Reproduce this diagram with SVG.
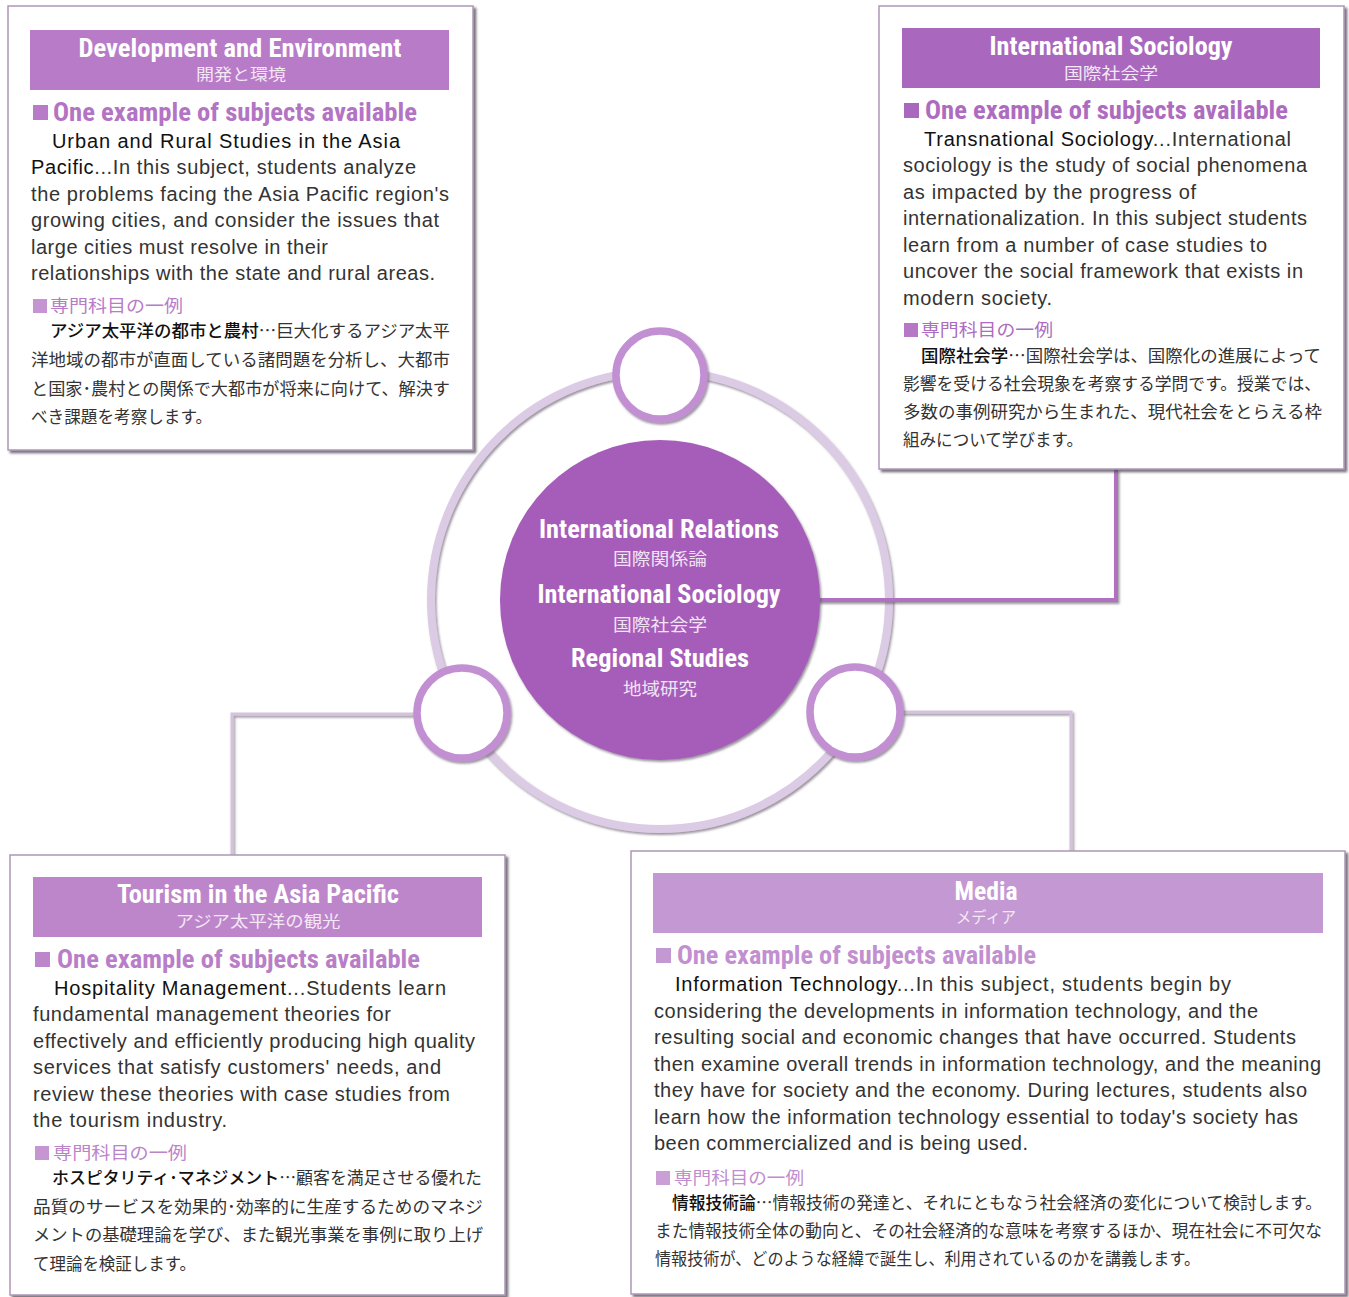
<svg xmlns="http://www.w3.org/2000/svg" width="1349" height="1297" viewBox="0 0 1349 1297">
  <defs>
    <filter id="shadow" x="-5%" y="-5%" width="112%" height="112%">
      <feDropShadow dx="2.5" dy="2.5" stdDeviation="1" flood-color="#4a4450" flood-opacity="0.75"/>
    </filter>
    <filter id="lineShadow" x="-10%" y="-10%" width="120%" height="130%">
      <feDropShadow dx="1.5" dy="2" stdDeviation="1" flood-color="#5a5060" flood-opacity="0.6"/>
    </filter>
    <style>
      .card { fill: #ffffff; stroke: #ad97b6; stroke-width: 1.5; filter: url(#shadow); }
      .title { font-family: "Liberation Sans Narrow", "Roboto Condensed", "DejaVu Sans Condensed", "Liberation Sans", sans-serif; font-weight: bold; font-size: 25px; fill: #ffffff; text-anchor: middle; }
      .sub { font-family: "Noto Sans CJK JP", sans-serif; font-size: 16px; fill: #f4e8f6; text-anchor: middle; }
      .ex { font-family: "Liberation Sans Narrow", "Roboto Condensed", "DejaVu Sans Condensed", "Liberation Sans", sans-serif; font-weight: bold; font-size: 26px; }
      .body { font-family: "Liberation Sans", Arial, sans-serif; font-size: 20px; fill: #333333; }
      .name { fill: #111111; }
      .jh { font-family: "Noto Sans CJK JP", sans-serif; font-size: 17px; }
      .jp { font-family: "Noto Sans CJK JP", sans-serif; font-size: 17px; fill: #333333; }
      .jname { font-weight: 500; fill: #111111; }
      .conn { fill: none; stroke-linejoin: miter; filter: url(#lineShadow); }
      .ring { fill: none; stroke: #dccbe4; stroke-width: 8; filter: url(#lineShadow); }
      .bub { fill: #ffffff; stroke: #c290d2; stroke-width: 7.5; filter: url(#lineShadow); }
      .hubtxt { font-family: "Liberation Sans Narrow", "Roboto Condensed", "DejaVu Sans Condensed", "Liberation Sans", sans-serif; font-weight: bold; font-size: 25px; fill: #ffffff; text-anchor: middle; }
      .hubjp { font-family: "Noto Sans CJK JP", sans-serif; font-size: 17px; fill: #f1e4f5; text-anchor: middle; }
    </style>
  </defs>

  <!-- outer ring of the hub -->
  <circle class="ring" cx="660" cy="600" r="229"/>

  <!-- connectors between hub and cards -->
  <g id="connectors">
    <path class="conn" d="M474 359 H616" stroke="#cfbcda" stroke-width="4"/>
    <path class="conn" d="M818 600 H1116 V469" stroke="#b071c2" stroke-width="4"/>
    <path class="conn" d="M416 714 H232 V855" stroke="#d3c3dc" stroke-width="3"/>
    <path class="conn" d="M902 712 H1071 V851" stroke="#d3c3dc" stroke-width="3"/>
  </g>

  <!-- central hub -->
  <g id="hub">
    <circle cx="660" cy="600" r="160" fill="#a65db9" filter="url(#lineShadow)"/>
    <text class="hubtxt" x="659" y="538" textLength="240" lengthAdjust="spacingAndGlyphs">International Relations</text>
    <text class="hubjp" x="660" y="565" textLength="94" lengthAdjust="spacingAndGlyphs">国際関係論</text>
    <text class="hubtxt" x="659" y="603" textLength="243" lengthAdjust="spacingAndGlyphs">International Sociology</text>
    <text class="hubjp" x="660" y="631" textLength="94" lengthAdjust="spacingAndGlyphs">国際社会学</text>
    <text class="hubtxt" x="660" y="667" textLength="178" lengthAdjust="spacingAndGlyphs">Regional Studies</text>
    <text class="hubjp" x="660" y="695" textLength="74" lengthAdjust="spacingAndGlyphs">地域研究</text>
  </g>

  <!-- small bubbles on the ring -->
  <g id="bubble-top"><circle class="bub" cx="660" cy="375" r="44"/></g>
  <g id="bubble-left"><circle class="bub" cx="462" cy="713" r="45"/></g>
  <g id="bubble-right"><circle class="bub" cx="855" cy="712" r="45"/></g>

  <!-- Development and Environment -->
  <g id="card-development">
    <rect class="card" x="8" y="6" width="465" height="444"/>
    <rect x="30" y="30" width="419" height="60" fill="#b87bc8"/>
    <text class="title" x="240" y="57" textLength="323" lengthAdjust="spacingAndGlyphs">Development and Environment</text>
    <text class="sub" x="241" y="80" textLength="90" lengthAdjust="spacingAndGlyphs">開発と環境</text>
    <rect x="33" y="105" width="15" height="15" fill="#b87bc8"/>
    <text class="ex" x="53" y="121" fill="#b374c4" textLength="364" lengthAdjust="spacingAndGlyphs">One example of subjects available</text>
    <text class="body" x="52" y="148" textLength="348" lengthAdjust="spacing"><tspan class="name">Urban and Rural Studies in the Asia</tspan></text>
    <text class="body" x="31" y="174" textLength="385" lengthAdjust="spacing"><tspan class="name">Pacific</tspan>...In this subject, students analyze</text>
    <text class="body" x="31" y="201" textLength="418" lengthAdjust="spacing">the problems facing the Asia Pacific region's</text>
    <text class="body" x="31" y="227" textLength="408" lengthAdjust="spacing">growing cities, and consider the issues that</text>
    <text class="body" x="31" y="254" textLength="297" lengthAdjust="spacing">large cities must resolve in their</text>
    <text class="body" x="31" y="280" textLength="404" lengthAdjust="spacing">relationships with the state and rural areas.</text>
    <rect x="33" y="299" width="14" height="14" fill="#c594d2"/>
    <text class="jh" x="50" y="312" fill="#b87bc8" textLength="133" lengthAdjust="spacingAndGlyphs">専門科目の一例</text>
    <text class="jp" x="50" y="337" textLength="400" lengthAdjust="spacingAndGlyphs"><tspan class="jname">アジア太平洋の都市と農村</tspan>…巨大化するアジア太平</text>
    <text class="jp" x="31" y="366" textLength="419" lengthAdjust="spacingAndGlyphs">洋地域の都市が直面している諸問題を分析し、大都市</text>
    <text class="jp" x="31" y="395" textLength="419" lengthAdjust="spacingAndGlyphs">と国家･農村との関係で大都市が将来に向けて、解決す</text>
    <text class="jp" x="31" y="423" textLength="181" lengthAdjust="spacingAndGlyphs">べき課題を考察します。</text>
  </g>

  <!-- International Sociology -->
  <g id="card-sociology">
    <rect class="card" x="879" y="6" width="465" height="463"/>
    <rect x="902" y="28" width="418" height="60" fill="#a968bd"/>
    <text class="title" x="1111" y="55" textLength="243" lengthAdjust="spacingAndGlyphs">International Sociology</text>
    <text class="sub" x="1111" y="79" textLength="94" lengthAdjust="spacingAndGlyphs">国際社会学</text>
    <rect x="904" y="103" width="15" height="15" fill="#a968bd"/>
    <text class="ex" x="925" y="119" fill="#ad6cc0" textLength="363" lengthAdjust="spacingAndGlyphs">One example of subjects available</text>
    <text class="body" x="924" y="146" textLength="367" lengthAdjust="spacing"><tspan class="name">Transnational Sociology</tspan>...International</text>
    <text class="body" x="903" y="172" textLength="404" lengthAdjust="spacing">sociology is the study of social phenomena</text>
    <text class="body" x="903" y="199" textLength="293" lengthAdjust="spacing">as impacted by the progress of</text>
    <text class="body" x="903" y="225" textLength="404" lengthAdjust="spacing">internationalization. In this subject students</text>
    <text class="body" x="903" y="252" textLength="364" lengthAdjust="spacing">learn from a number of case studies to</text>
    <text class="body" x="903" y="278" textLength="400" lengthAdjust="spacing">uncover the social framework that exists in</text>
    <text class="body" x="903" y="305" textLength="149" lengthAdjust="spacing">modern society.</text>
    <rect x="904" y="323" width="14" height="14" fill="#b577c6"/>
    <text class="jh" x="921" y="336" fill="#ad6cc0" textLength="132" lengthAdjust="spacingAndGlyphs">専門科目の一例</text>
    <text class="jp" x="921" y="362" textLength="400" lengthAdjust="spacingAndGlyphs"><tspan class="jname">国際社会学</tspan>…国際社会学は、国際化の進展によって</text>
    <text class="jp" x="903" y="390" textLength="418" lengthAdjust="spacingAndGlyphs">影響を受ける社会現象を考察する学問です。授業では、</text>
    <text class="jp" x="903" y="418" textLength="419" lengthAdjust="spacingAndGlyphs">多数の事例研究から生まれた、現代社会をとらえる枠</text>
    <text class="jp" x="903" y="446" textLength="180" lengthAdjust="spacingAndGlyphs">組みについて学びます。</text>
  </g>

  <!-- Tourism in the Asia Pacific -->
  <g id="card-tourism">
    <rect class="card" x="10" y="855" width="495" height="440"/>
    <rect x="33" y="877" width="449" height="60" fill="#bd86cb"/>
    <text class="title" x="258" y="903" textLength="282" lengthAdjust="spacingAndGlyphs">Tourism in the Asia Pacific</text>
    <text class="sub" x="258" y="927" textLength="165" lengthAdjust="spacingAndGlyphs">アジア太平洋の観光</text>
    <rect x="35" y="952" width="15" height="15" fill="#bd86cb"/>
    <text class="ex" x="57" y="968" fill="#b87ec8" textLength="363" lengthAdjust="spacingAndGlyphs">One example of subjects available</text>
    <text class="body" x="54" y="995" textLength="392" lengthAdjust="spacing"><tspan class="name">Hospitality Management</tspan>...Students learn</text>
    <text class="body" x="33" y="1021" textLength="358" lengthAdjust="spacing">fundamental management theories for</text>
    <text class="body" x="33" y="1048" textLength="442" lengthAdjust="spacing">effectively and efficiently producing high quality</text>
    <text class="body" x="33" y="1074" textLength="408" lengthAdjust="spacing">services that satisfy customers' needs, and</text>
    <text class="body" x="33" y="1101" textLength="417" lengthAdjust="spacing">review these theories with case studies from</text>
    <text class="body" x="33" y="1127" textLength="194" lengthAdjust="spacing">the tourism industry.</text>
    <rect x="35" y="1146" width="14" height="14" fill="#c596d2"/>
    <text class="jh" x="53" y="1159" fill="#bb84ca" textLength="134" lengthAdjust="spacingAndGlyphs">専門科目の一例</text>
    <text class="jp" x="52" y="1184" textLength="430" lengthAdjust="spacingAndGlyphs"><tspan class="jname">ホスピタリティ･マネジメント</tspan>…顧客を満足させる優れた</text>
    <text class="jp" x="33" y="1213" textLength="450" lengthAdjust="spacingAndGlyphs">品質のサービスを効果的･効率的に生産するためのマネジ</text>
    <text class="jp" x="33" y="1241" textLength="450" lengthAdjust="spacingAndGlyphs">メントの基礎理論を学び、また観光事業を事例に取り上げ</text>
    <text class="jp" x="33" y="1270" textLength="163" lengthAdjust="spacingAndGlyphs">て理論を検証します。</text>
  </g>

  <!-- Media -->
  <g id="card-media">
    <rect class="card" x="631" y="851" width="714" height="443"/>
    <rect x="653" y="873" width="670" height="60" fill="#c498d2"/>
    <text class="title" x="986" y="900" textLength="63" lengthAdjust="spacingAndGlyphs">Media</text>
    <text class="sub" x="986" y="923" textLength="60" lengthAdjust="spacingAndGlyphs">メディア</text>
    <rect x="656" y="948" width="15" height="15" fill="#c498d2"/>
    <text class="ex" x="677" y="964" fill="#c28fd0" textLength="359" lengthAdjust="spacingAndGlyphs">One example of subjects available</text>
    <text class="body" x="675" y="991" textLength="556" lengthAdjust="spacing"><tspan class="name">Information Technology</tspan>...In this subject, students begin by</text>
    <text class="body" x="654" y="1018" textLength="604" lengthAdjust="spacing">considering the developments in information technology, and the</text>
    <text class="body" x="654" y="1044" textLength="642" lengthAdjust="spacing">resulting social and economic changes that have occurred. Students</text>
    <text class="body" x="654" y="1071" textLength="667" lengthAdjust="spacing">then examine overall trends in information technology, and the meaning</text>
    <text class="body" x="654" y="1097" textLength="653" lengthAdjust="spacing">they have for society and the economy. During lectures, students also</text>
    <text class="body" x="654" y="1124" textLength="644" lengthAdjust="spacing">learn how the information technology essential to today's society has</text>
    <text class="body" x="654" y="1150" textLength="374" lengthAdjust="spacing">been commercialized and is being used.</text>
    <rect x="656" y="1171" width="14" height="14" fill="#c99fd5"/>
    <text class="jh" x="674" y="1184" fill="#c08dcf" textLength="130" lengthAdjust="spacingAndGlyphs">専門科目の一例</text>
    <text class="jp" x="672" y="1209" textLength="650" lengthAdjust="spacingAndGlyphs"><tspan class="jname">情報技術論</tspan>…情報技術の発達と、それにともなう社会経済の変化について検討します。</text>
    <text class="jp" x="655" y="1237" textLength="667" lengthAdjust="spacingAndGlyphs">また情報技術全体の動向と、その社会経済的な意味を考察するほか、現在社会に不可欠な</text>
    <text class="jp" x="655" y="1265" textLength="545" lengthAdjust="spacingAndGlyphs">情報技術が、どのような経緯で誕生し、利用されているのかを講義します。</text>
  </g>
</svg>
